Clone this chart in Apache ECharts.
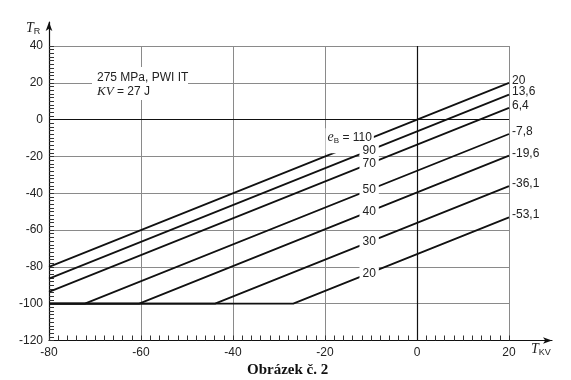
<!DOCTYPE html>
<html><head><meta charset="utf-8">
<script src="https://cdn.jsdelivr.net/npm/echarts@6/dist/echarts.min.js"></script>
<style>html,body{margin:0;padding:0;background:#fff}#c{width:571px;height:380px}</style>
</head><body><div id="c"></div>
<script>
// ---- data ----
const eB = [110, 90, 70, 50, 40, 30, 20];
const endLabels = ['20', '13,6', '6,4', '-7,8', '-19,6', '-36,1', '-53,1'];
const curve110 = [[-80, -80], [20, 20]];
const curve90  = [[-80, -86.4], [20, 13.6]];
const curve70  = [[-80, -93.6], [20, 6.4]];
const curve50  = [[-80, -100], [-72.2, -100], [20, -7.8]];
const curve40  = [[-80, -100], [-60.4, -100], [20, -19.6]];
const curve30  = [[-80, -100], [-43.9, -100], [20, -36.1]];
const curve20  = [[-80, -100], [-26.9, -100], [20, -53.1]];
const xTicks = [-80, -60, -40, -20, 0, 20];
const yTicks = [-120, -100, -80, -60, -40, -20, 0, 20, 40];

const curves = [curve110, curve90, curve70, curve50, curve40, curve30, curve20];
const SANS = 'Liberation Sans, Arial, sans-serif';
const SERIF = 'Liberation Serif, Times New Roman, serif';

function yAt(c, x) {
  for (let k = 0; k < c.length - 1; k++) {
    const a = c[k], b = c[k + 1];
    if (x >= a[0] && x <= b[0]) return a[1] + (b[1] - a[1]) * (x - a[0]) / (b[0] - a[0]);
  }
  return c[c.length - 1][1];
}

const series = curves.map((c, i) => {
  const first = i === 0;
  const lx = first ? -13 : -10.4;
  const label = first ? {
    show: true, position: 'inside', offset: [-7.5, -2.8],
    formatter: '{e|e}{b|B}{t| = 110}',
    backgroundColor: '#fff', padding: [1, 2, 8, 2],
    rich: {
      e: { fontFamily: SERIF, fontStyle: 'italic', fontSize: 14, color: '#222', lineHeight: 16 },
      b: { fontFamily: SANS, fontSize: 8, color: '#222', lineHeight: 10, verticalAlign: 'bottom' },
      t: { fontFamily: SANS, fontSize: 12, color: '#222', lineHeight: 16 }
    }
  } : {
    show: true, position: 'inside', formatter: String(eB[i]),
    backgroundColor: '#fff', padding: [1, 3], color: '#222', fontSize: 12, fontFamily: SANS
  };
  const s = {
    type: 'line', xAxisIndex: 0, yAxisIndex: 0, data: c, symbol: 'none', silent: true,
    lineStyle: { color: '#111', width: 1.8 },
    endLabel: { show: true, formatter: () => endLabels[i], color: '#222', fontSize: 12,
      fontFamily: SANS, distance: 3, offset: [0, -2.5] },
    markPoint: { symbol: 'circle', symbolSize: 0, silent: true,
      data: [{ coord: [lx, yAt(c, lx)], label: label }] }
  };
  if (first) {
    s.markLine = { silent: true, symbol: 'none', label: { show: false },
      lineStyle: { color: '#111', width: 1.2, type: 'solid' },
      data: [{ xAxis: 0 }, { yAxis: 0 }] };
  }
  return s;
});

const hidden = { show: false };
const option = {
  animation: false,
  backgroundColor: '#fff',
  title: { text: 'Obrázek č. 2', left: 247, top: 363, padding: 0,
    textStyle: { fontFamily: SERIF, fontWeight: 'bold', fontSize: 15, color: '#111' } },
  grid: [
    { left: 49, right: 62, top: 46, bottom: 39.5 },
    { left: 49, top: 22, width: 1, height: 24 },
    { left: 509, right: 19, bottom: 39.5, height: 1 }
  ],
  xAxis: [
    { gridIndex: 0, type: 'value', position: 'bottom', min: xTicks[0], max: xTicks[xTicks.length - 1], interval: 20,
      axisLine: { show: true, onZero: false, lineStyle: { color: '#111', width: 1.2 } },
      axisTick: { show: false },
      axisLabel: { color: '#222', fontSize: 12, fontFamily: SANS, margin: 6 },
      splitLine: { show: true, lineStyle: { color: '#8a8a8a', width: 1 } } },
    { gridIndex: 1, type: 'value', show: false },
    { gridIndex: 2, type: 'value', min: 0, max: 1,
      axisLine: { show: true, onZero: false, symbol: ['none', 'arrow'], symbolSize: [5, 9],
        lineStyle: { color: '#111', width: 1.2 } },
      axisTick: hidden, axisLabel: hidden, splitLine: hidden },
    { gridIndex: 0, type: 'value', position: 'bottom', min: xTicks[0], max: xTicks[xTicks.length - 1], interval: 2,
      axisLine: { show: false, onZero: false },
      axisTick: { show: true, inside: true, length: 5, lineStyle: { color: '#333', width: 1 } },
      axisLabel: hidden, splitLine: hidden }
  ],
  yAxis: [
    { gridIndex: 0, type: 'value', position: 'left', min: yTicks[0], max: yTicks[yTicks.length - 1], interval: 20,
      axisLine: { show: true, onZero: false, lineStyle: { color: '#111', width: 1.2 } },
      axisTick: { show: false },
      axisLabel: { color: '#222', fontSize: 12, fontFamily: SANS, margin: 6 },
      splitLine: { show: true, lineStyle: { color: '#8a8a8a', width: 1 } } },
    { gridIndex: 1, type: 'value', min: 0, max: 1,
      axisLine: { show: true, onZero: false, symbol: ['none', 'arrow'], symbolSize: [5, 9],
        lineStyle: { color: '#111', width: 1.2 } },
      axisTick: hidden, axisLabel: hidden, splitLine: hidden },
    { gridIndex: 2, type: 'value', show: false },
    { gridIndex: 0, type: 'value', position: 'left', min: yTicks[0], max: yTicks[yTicks.length - 1], interval: 2,
      axisLine: { show: false, onZero: false },
      axisTick: { show: true, inside: true, length: 5, lineStyle: { color: '#333', width: 1 } },
      axisLabel: hidden, splitLine: hidden }
  ],
  graphic: [
    { type: 'rect', left: 92, top: 67, z: 50, shape: { width: 96, height: 33 }, style: { fill: '#fff' } },
    { type: 'text', left: 97, top: 72, z: 51,
      style: { text: '275 MPa, PWI IT', fontFamily: SANS, fontSize: 12, fill: '#222' } },
    { type: 'text', left: 97, top: 85, z: 51,
      style: { text: '{i|KV}{n| = 27 J}', fill: '#222',
        rich: { i: { fontFamily: SERIF, fontStyle: 'italic', fontSize: 13, fill: '#222', color: '#222' },
                n: { fontFamily: SANS, fontSize: 12, fill: '#222', color: '#222' } } } },
    { type: 'text', left: 26, top: 21, z: 51,
      style: { text: '{t|T}{s|R}', fill: '#222',
        rich: { t: { fontFamily: SERIF, fontStyle: 'italic', fontSize: 14, lineHeight: 17, fill: '#222', color: '#222' },
                s: { fontFamily: SANS, fontSize: 9, lineHeight: 10, verticalAlign: 'bottom', fill: '#222', color: '#222' } } } },
    { type: 'text', left: 531, top: 342, z: 51,
      style: { text: '{t|T}{s|KV}', fill: '#222',
        rich: { t: { fontFamily: SERIF, fontStyle: 'italic', fontSize: 14, lineHeight: 17, fill: '#222', color: '#222' },
                s: { fontFamily: SANS, fontSize: 9, lineHeight: 10, verticalAlign: 'bottom', fill: '#222', color: '#222' } } } }
  ],
  series: series
};
const chart = echarts.init(document.getElementById('c'), null, { renderer: 'canvas' });
chart.setOption(option);
</script>
</body></html>
